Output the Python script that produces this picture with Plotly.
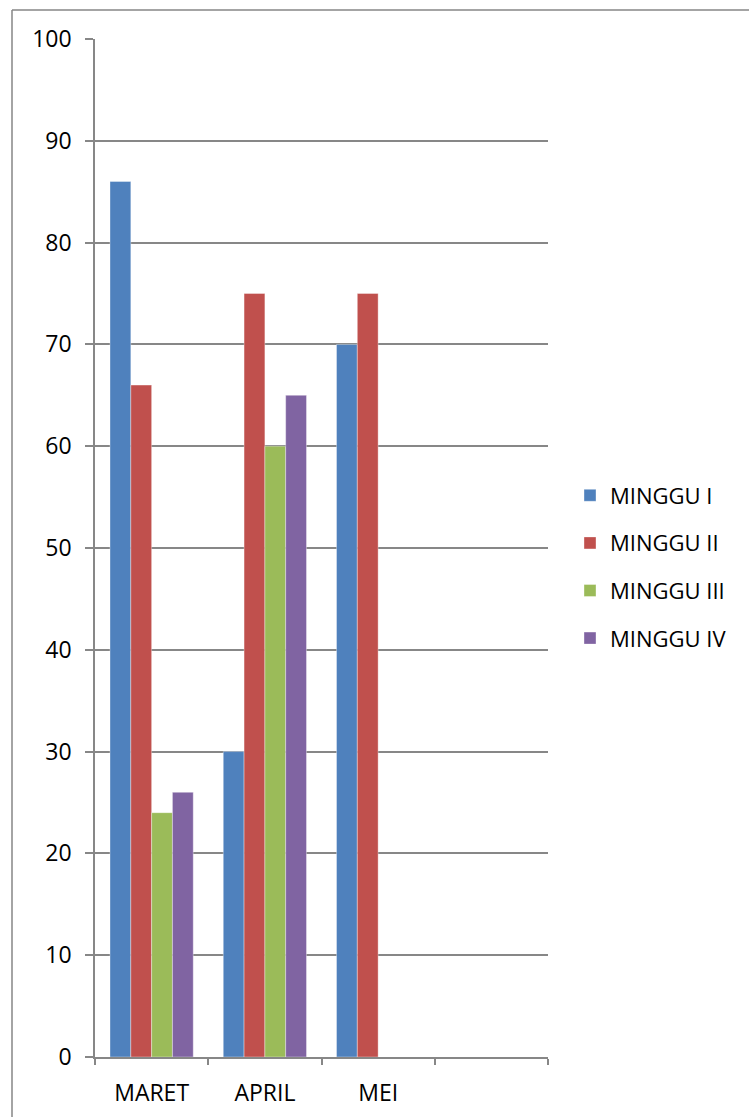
import plotly.graph_objects as go

categories = ["MARET", "APRIL", "MEI", " "]
series_names = ["MINGGU I", "MINGGU II", "MINGGU III", "MINGGU IV"]
minggu_1 = [86, 30, 70, None]
minggu_2 = [66, 75, 75, None]
minggu_3 = [24, 60, None, None]
minggu_4 = [26, 65, None, None]
colors = ["#4F81BD", "#C0504D", "#9BBB59", "#8064A2"]
y_ticks = [0, 10, 20, 30, 40, 50, 60, 70, 80, 90, 100]

W, H = 749, 1117
L, R, T, B = 95, 548, 39, 1057

fig = go.Figure()
for i, (name, vals) in enumerate(zip(series_names, [minggu_1, minggu_2, minggu_3, minggu_4])):
    fig.add_trace(go.Bar(
        x=categories, y=vals, name=name, legendgroup=name,
        marker=dict(color=colors[i], line=dict(width=0.6, color="rgba(255,255,255,0.6)")),
    ))

FONT = "Open Sans"
GRID = "#878787"

fig.update_layout(
    width=W, height=H,
    margin=dict(l=L, r=W - R, t=T, b=H - B, pad=0, autoexpand=False),
    paper_bgcolor="white", plot_bgcolor="white",
    barmode="group", bargap=0.265, bargroupgap=0,
    font=dict(family=FONT, size=22, color="black"),
    showlegend=True,
    legend=dict(
        x=(570 - L) / (R - L), xanchor="left",
        y=(1057 - 567) / (B - T), yanchor="middle",
        tracegroupgap=16, font=dict(family=FONT, size=22, color="black"),
        bgcolor="rgba(0,0,0,0)", itemwidth=30,
    ),
    xaxis=dict(
        type="category", categoryorder="array", categoryarray=categories,
        range=[-0.5, 3.5], tickson="boundaries", automargin=False,
        ticks="outside", ticklen=6, tickcolor=GRID, tickwidth=1.5,
        showline=True, linecolor=GRID, linewidth=1.5,
        showgrid=False, zeroline=False,
        tickfont=dict(family=FONT, size=23), ticklabelstandoff=15,
    ),
    yaxis=dict(
        range=[0, 100], tickvals=y_ticks, ticktext=[str(v) for v in y_ticks],
        automargin=False,
        ticks="outside", ticklen=8, tickcolor=GRID, tickwidth=1.5,
        showline=True, linecolor=GRID, linewidth=1.5,
        showgrid=True, gridcolor=GRID, gridwidth=1.5,
        zeroline=False,
        tickfont=dict(family=FONT, size=23), ticklabelstandoff=9,
    ),
)

# outer chart-area border (top and left visible)
def px_to_paper_x(px):
    return (px - L) / (R - L)

def px_to_paper_y(py):
    return (B - py) / (B - T)

fig.add_shape(type="line", xref="paper", yref="paper",
              x0=px_to_paper_x(12), x1=px_to_paper_x(760),
              y0=px_to_paper_y(10), y1=px_to_paper_y(10),
              line=dict(color="#868686", width=1.5))
fig.add_shape(type="line", xref="paper", yref="paper",
              x0=px_to_paper_x(12), x1=px_to_paper_x(12),
              y0=px_to_paper_y(10), y1=px_to_paper_y(1130),
              line=dict(color="#868686", width=1.5))

fig.write_html("out.html")
